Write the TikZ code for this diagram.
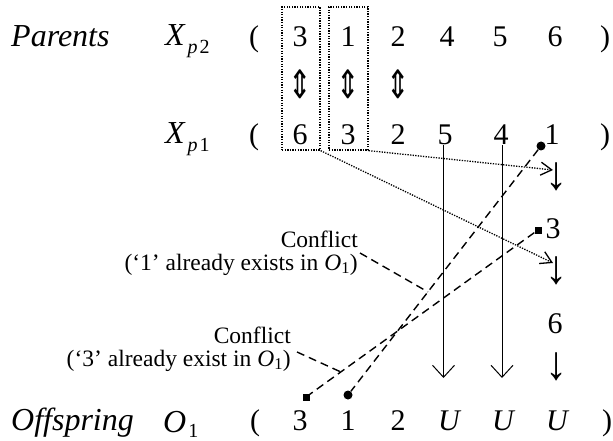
\documentclass[tikz,border=0pt]{standalone}
\usepackage{fontspec}
\setmainfont{Liberation Serif}
\newfontfamily\dejavu{DejaVu Sans}
\usetikzlibrary{arrows.meta,calc}
\begin{document}
\begin{tikzpicture}[x=1pt,y=-1pt,
  txt/.style={font=\fontsize{30}{34}\selectfont, anchor=base, inner sep=0pt},
  lab/.style={font=\fontsize{32}{36}\selectfont\itshape, anchor=base west, inner sep=0pt},
  sym/.style={font=\fontsize{28}{30}\selectfont\dejavu, inner sep=0pt},
  dn/.style={font=\fontsize{34}{36}\selectfont, inner sep=0pt},
  conf/.style={font=\fontsize{23.5}{23}\selectfont, align=right, inner sep=0pt, anchor=east},
  dotbox/.style={draw, line width=1.3pt, dash pattern=on 1.3pt off 1.3pt, inner sep=0pt},
  dotarrow/.style={line width=1.3pt, dash pattern=on 1.3pt off 1.3pt, -{Straight Barb[length=11pt,width=13pt]}},
  solidarrow/.style={line width=1pt, -{Straight Barb[length=12pt,width=22pt]}},
  dashline/.style={line width=1.4pt, dash pattern=on 8pt off 5pt},
  dotmark/.style={circle, fill, inner sep=0pt, minimum size=9pt},
  sqmark/.style={rectangle, fill, inner sep=0pt, minimum size=7pt}
]
\useasboundingbox (0,0) rectangle (613,441);
% row 1
\node[lab] (par) at (11,47) {Parents};
\node[lab] (xp2) at (165,46) {X\hspace{3pt}\raisebox{-8pt}{\fontsize{20}{22}\selectfont\itshape p\hspace{2pt}\upshape 2}};
\node[txt] (l1) at (254,47) {(};
\node[txt] (a1) at (300,47) {3};
\node[txt] (a2) at (348,47) {1};
\node[txt] (a3) at (398,47) {2};
\node[txt] (a4) at (447,47) {4};
\node[txt] (a5) at (500,47) {5};
\node[txt] (a6) at (555,47) {6};
\node[txt] (r1) at (605,47) {)};
% swap arrows
\node[sym] (s1) at (300,84) {\scalebox{1}[1.4]{⇕}};
\node[sym] (s2) at (348,84) {\scalebox{1}[1.4]{⇕}};
\node[sym] (s3) at (398,84) {\scalebox{1}[1.4]{⇕}};
% row 2
\node[lab] (xp1) at (165,143) {X\hspace{3pt}\raisebox{-8pt}{\fontsize{20}{22}\selectfont\itshape p\hspace{2pt}\upshape 1}};
\node[txt] (l2) at (254,145) {(};
\node[txt] (b1) at (300,145) {6};
\node[txt] (b2) at (348,145) {3};
\node[txt] (b3) at (398,145) {2};
\node[txt] (b4) at (445,145) {5};
\node[txt] (b5) at (501,145) {4};
\node[txt] (b6) at (552,145) {1};
\node[txt] (r2) at (605,145) {)};
% boxes
\node[dotbox, minimum width=38pt, minimum height=143pt] (box1) at (301,78.5) {};
\node[dotbox, minimum width=39pt, minimum height=143pt] (box2) at (348.5,78.5) {};
% column chain
\node[dn] (d1) at (557,177) {\scalebox{1.3}[1.4]{↓}};
\node[txt] (c3) at (553,238) {3};
\node[dn] (d2) at (557,271) {\scalebox{1.3}[1.4]{↓}};
\node[txt] (c6) at (555,333) {6};
\node[dn] (d3) at (557,367) {\scalebox{1.3}[1.4]{↓}};
% offspring row
\node[lab] (off) at (11,430) {Offspring};
\node[lab] (o1l) at (163,432) {O\hspace{2pt}\raisebox{-5pt}{\fontsize{20}{22}\selectfont\upshape 1}};
\node[txt] (l3) at (255,430) {(};
\node[txt] (o1) at (300,430) {3};
\node[txt] (o2) at (348,430) {1};
\node[txt] (o3) at (398,430) {2};
\node[txt, font=\fontsize{30}{34}\selectfont\itshape] (o4) at (449,430) {U};
\node[txt, font=\fontsize{30}{34}\selectfont\itshape] (o5) at (503,430) {U};
\node[txt, font=\fontsize{30}{34}\selectfont\itshape] (o6) at (557,430) {U};
\node[txt] (r3) at (607,430) {)};
% dotted arrows
\coordinate (t1) at (553,170);
\coordinate (t2) at (553,263);
\draw[dotarrow] (box2.south east) -- (t1);
\draw[dotarrow] (box1.south east) -- (t2);
% solid arrows
\coordinate (e1) at (443.5,378);
\coordinate (e2) at (502,378);
\draw[solidarrow] (b4.south -| e1) -- (e1);
\draw[solidarrow] (b5.south -| e2) -- (e2);
% markers and dashed lines
\node[dotmark] (m1) at (541,146) {};
\node[dotmark] (m2) at (348,395) {};
\node[sqmark] (q1) at (538,230) {};
\node[sqmark] (q2) at (306,397) {};
\draw[dashline] (m1) -- (m2);
\draw[dashline] (q1) -- (q2);
% conflict labels
\node[conf] (cf1) at (358,253) {Conflict\\(‘1’ already exists in \textit{O}\textsubscript{1})};
\node[conf] (cf2) at (291,349) {Conflict\\(‘3’ already exist in \textit{O}\textsubscript{1})};
\draw[dashline] ($(cf1.east)+(2,0)$) -- ($(m1)!0.586!(m2)$);
\draw[dashline] ($(cf2.east)+(6,3)$) -- ($(q1)!0.85!(q2)$);
\end{tikzpicture}
\end{document}
